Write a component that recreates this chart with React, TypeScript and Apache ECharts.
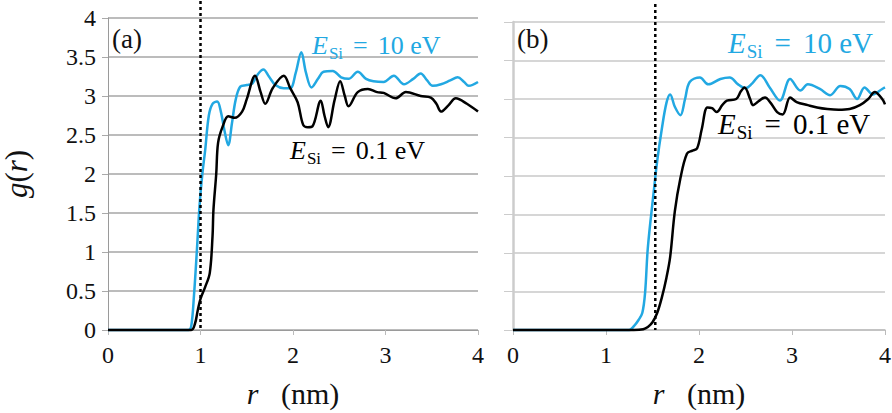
import React, { useEffect, useRef } from 'react';
import * as echarts from 'echarts';

const xTicks = [0, 1, 2, 3, 4];
const yMax = 4;
const yStep = 0.5;

// Panel (a)
const aHigh: [number, number][] = [
  [0, 0], [0.87, 0], [0.9, 0.05], [0.93, 0.45], [0.96, 1.0], [0.99, 1.6], [1.02, 2.0], [1.05, 2.3],
  [1.09, 2.75], [1.13, 2.9], [1.18, 2.93], [1.22, 2.8], [1.26, 2.55], [1.3, 2.37], [1.34, 2.65],
  [1.38, 2.95], [1.43, 3.12], [1.5, 3.14], [1.56, 3.16], [1.62, 3.28], [1.68, 3.34], [1.74, 3.25],
  [1.81, 3.14], [1.9, 3.1], [1.97, 3.1], [2.03, 3.3], [2.09, 3.56], [2.14, 3.3], [2.2, 3.11],
  [2.27, 3.22], [2.33, 3.31], [2.43, 3.32], [2.52, 3.24], [2.6, 3.22], [2.7, 3.31], [2.79, 3.22],
  [2.87, 3.19], [2.98, 3.18], [3.09, 3.26], [3.2, 3.15], [3.3, 3.22], [3.38, 3.29], [3.45, 3.2],
  [3.51, 3.13], [3.6, 3.15], [3.7, 3.2], [3.78, 3.24], [3.85, 3.18], [3.9, 3.13], [4.0, 3.18],
];
const aLow: [number, number][] = [
  [0, 0], [0.9, 0], [0.94, 0.08], [0.97, 0.25], [1.0, 0.4], [1.05, 0.55], [1.1, 0.73], [1.13, 1.2],
  [1.14, 1.54], [1.17, 2.0], [1.19, 2.4], [1.24, 2.61], [1.3, 2.74], [1.37, 2.72], [1.45, 2.8],
  [1.5, 2.96], [1.59, 3.26], [1.65, 3.05], [1.7, 2.9], [1.78, 3.1], [1.9, 3.26], [1.97, 3.1],
  [2.05, 2.92], [2.11, 2.63], [2.16, 2.6], [2.21, 2.61], [2.3, 2.94], [2.34, 2.75], [2.38, 2.6],
  [2.45, 2.95], [2.51, 3.19], [2.56, 3.0], [2.6, 2.87], [2.7, 3.05], [2.81, 3.09], [2.91, 3.05],
  [2.98, 3.04], [3.11, 2.97], [3.22, 3.05], [3.38, 3.0], [3.49, 2.98], [3.55, 2.9], [3.6, 2.8],
  [3.68, 2.88], [3.76, 2.97], [3.88, 2.9], [4.0, 2.8],
];

// Panel (b)
const bHigh: [number, number][] = [
  [0, 0], [1.25, 0], [1.3, 0.05], [1.35, 0.13], [1.39, 0.22], [1.42, 0.48], [1.45, 1.07], [1.51, 1.76],
  [1.55, 2.19], [1.6, 2.61], [1.65, 2.95], [1.69, 3.06], [1.74, 2.9], [1.8, 2.79], [1.85, 3.0],
  [1.9, 3.22], [2.01, 3.28], [2.1, 3.19], [2.23, 3.26], [2.33, 3.28], [2.42, 3.19], [2.5, 3.14],
  [2.57, 3.2], [2.66, 3.31], [2.76, 3.15], [2.87, 2.98], [2.98, 3.26], [3.09, 3.11], [3.17, 3.19],
  [3.3, 3.13], [3.41, 3.05], [3.52, 3.17], [3.62, 3.13], [3.7, 3.0], [3.78, 3.15], [3.87, 3.06],
  [3.97, 3.13], [4.0, 3.15],
];
const bLow: [number, number][] = [
  [0, 0], [1.3, 0], [1.4, 0.01], [1.45, 0.04], [1.5, 0.1], [1.55, 0.22], [1.6, 0.42], [1.65, 0.68],
  [1.69, 0.95], [1.74, 1.54], [1.8, 1.97], [1.87, 2.29], [1.93, 2.33], [1.98, 2.36], [2.03, 2.61],
  [2.09, 2.89], [2.14, 2.88], [2.19, 2.83], [2.25, 2.92], [2.3, 2.98], [2.4, 3.0], [2.45, 3.1],
  [2.49, 3.15], [2.55, 3.0], [2.58, 2.92], [2.64, 2.97], [2.71, 3.02], [2.77, 2.95], [2.84, 2.83],
  [2.9, 2.8], [2.98, 3.02], [3.05, 2.96], [3.17, 2.92], [3.27, 2.89], [3.38, 2.87], [3.5, 2.86],
  [3.62, 2.87], [3.73, 2.92], [3.82, 3.0], [3.89, 3.09], [3.97, 3.0], [4.0, 2.93],
];

const cutoffs = [1.0, 1.53];
const panelLabels = ['(a)', '(b)'];
const highLabel = '10 eV';
const lowLabel = '0.1 eV';

const BLUE = '#22a8e2';
const FONT = 'Liberation Serif';

export default function App() {
  const ref = useRef<HTMLDivElement>(null);
  useEffect(() => {
    const chart = echarts.init(ref.current!, null, { renderer: 'svg' });

    const xAxisFor = (gi: number, right: boolean) => ({
      gridIndex: gi,
      type: 'value',
      min: 0,
      max: 4,
      interval: 1,
      axisLine: { show: true, onZero: false, lineStyle: { color: right ? '#bdbdbd' : '#9a9a9a', width: right ? 1.5 : 1 } },
      axisTick: { show: true, length: 5, lineStyle: { color: '#bbbbbb', width: 1 } },
      axisLabel: {
        fontFamily: FONT, fontSize: 24, color: '#111', margin: 13,
        formatter: (v: number) => `{t|${v}}`,
        rich: { t: { fontFamily: FONT, fontSize: 24, color: '#111' } },
      },
      splitLine: { show: false },
      name: '{i|r}   (nm)',
      nameLocation: 'middle',
      nameGap: 48,
      nameTextStyle: {
        fontFamily: FONT, fontSize: 30, color: '#111',
        rich: { i: { fontFamily: FONT, fontSize: 30, fontStyle: 'italic', color: '#111' }, n: { fontFamily: FONT, fontSize: 30, color: '#111' } },
      },
    });
    const yAxisFor = (gi: number, right: boolean) => ({
      gridIndex: gi,
      type: 'value',
      min: 0,
      max: yMax,
      interval: yStep,
      axisLine: { show: true, lineStyle: { color: right ? '#cccccc' : '#9a9a9a', width: right ? 2.5 : 1 } },
      axisTick: { show: true, length: right ? 9 : 6, lineStyle: { color: right ? '#cccccc' : '#aaaaaa', width: 1 } },
      axisLabel: {
        show: !right, fontFamily: FONT, fontSize: 24, color: '#111', margin: 12,
        formatter: (v: number) => `{t|${v}}`,
        rich: { t: { fontFamily: FONT, fontSize: 24, color: '#111' } },
      },
      splitLine: { show: true, lineStyle: { color: right ? '#c8c8c8' : '#a6a6a6', width: 1.5 } },
      name: right ? '' : '{i|g}({i|r})',
      nameLocation: 'middle',
      nameRotate: 90,
      nameGap: 76,
      nameTextStyle: {
        fontFamily: FONT, fontSize: 31, color: '#111',
        rich: { i: { fontFamily: FONT, fontSize: 31, fontStyle: 'italic', color: '#111' } },
      },
    });

    const line = (data: [number, number][], gi: number, color: string, z: number) => ({
      type: 'line',
      xAxisIndex: gi,
      yAxisIndex: gi,
      data,
      showSymbol: false,
      smooth: 0.35,
      clip: false,
      z,
      lineStyle: { color, width: 2.5 },
    });

    chart.setOption({
      animation: false,
      textStyle: { fontFamily: FONT },
      grid: [
        { left: 108, top: 18, width: 370, height: 312, outerBoundsMode: 'none', containLabel: false },
        { left: 513, top: 22, width: 372, height: 308, outerBoundsMode: 'none', containLabel: false },
      ],
      xAxis: [xAxisFor(0, false), xAxisFor(1, true)],
      yAxis: [yAxisFor(0, false), yAxisFor(1, true)],
      series: [
        line(aHigh, 0, BLUE, 2),
        line(aLow, 0, '#000', 3),
        line(bHigh, 1, BLUE, 2),
        line(bLow, 1, '#000', 3),
      ],
    });

    const ann = (x: number, y: number, val: string, color: string, fs: number, pad: number) => ({
      type: 'text',
      x,
      y,
      z: 20,
      style: {
        text: `{e|E}{s|Si}{q|=}{n|${val}}`,
        fill: color,
        align: 'left',
        verticalAlign: 'middle',
        rich: {
          e: { fontFamily: FONT, fontSize: fs, fontStyle: 'italic', fill: color },
          s: { fontFamily: FONT, fontSize: Math.round(fs * 0.66), fill: color, padding: [Math.round(fs * 0.6), 0, 0, 1] },
          q: { fontFamily: FONT, fontSize: fs, fill: color, padding: [0, pad, 0, pad] },
          n: { fontFamily: FONT, fontSize: fs, fill: color },
        },
      },
    });

    const p0a = chart.convertToPixel({ gridIndex: 0 }, [cutoffs[0], 0]) as number[];
    const p0b = chart.convertToPixel({ gridIndex: 1 }, [cutoffs[1], 0]) as number[];

    chart.setOption({
      graphic: [
        { type: 'line', z: 15, shape: { x1: p0a[0], y1: 1, x2: p0a[0], y2: p0a[1] }, style: { stroke: '#000', lineWidth: 2.5, lineDash: [3, 3] } },
        { type: 'line', z: 15, shape: { x1: p0b[0], y1: 4, x2: p0b[0], y2: p0b[1] }, style: { stroke: '#000', lineWidth: 2.5, lineDash: [3, 3] } },
        { type: 'text', x: 112, y: 39, z: 20, style: { text: panelLabels[0], fontFamily: FONT, fontSize: 27, fill: '#111', verticalAlign: 'middle' } },
        { type: 'text', x: 517, y: 39, z: 20, style: { text: panelLabels[1], fontFamily: FONT, fontSize: 27, fill: '#111', verticalAlign: 'middle' } },
        ann(312, 45, highLabel, BLUE, 26, 10),
        ann(290, 150, lowLabel, '#000', 26, 10),
        ann(728, 43, highLabel, BLUE, 29, 12),
        ann(718, 124, lowLabel, '#000', 29, 12),
      ],
    });

    return () => chart.dispose();
  }, []);
  return <div ref={ref} style={{ position: 'fixed', left: 0, top: 0, width: 892, height: 413, background: '#fff' }} />;
}
